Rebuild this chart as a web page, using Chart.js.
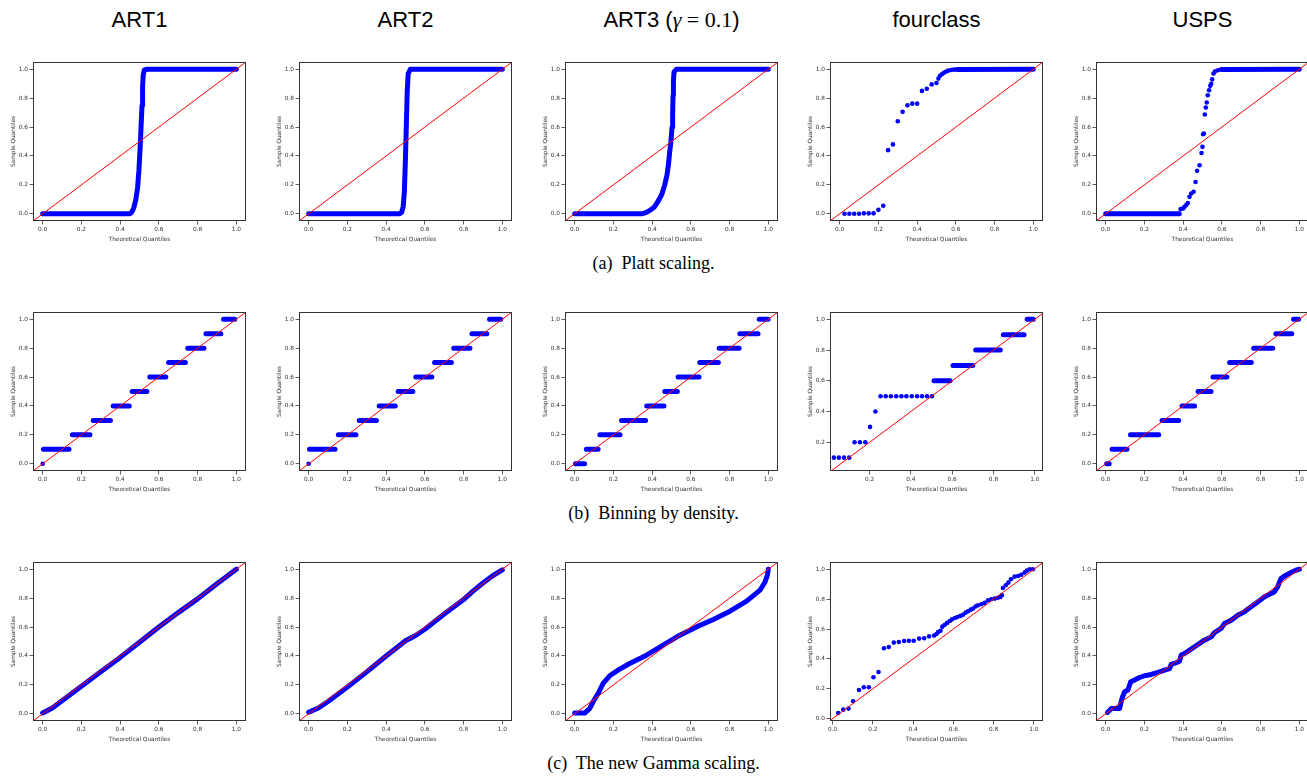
<!DOCTYPE html>
<html>
<head>
<meta charset="utf-8">
<script src="https://cdn.jsdelivr.net/npm/chart.js@4.4.0/dist/chart.umd.min.js"></script>
<style>
  body { margin: 0; width: 1307px; height: 779px; background: #fff; overflow: hidden; position: relative; }
  canvas { position: absolute; }
  .colTitle { position: absolute; top: 8px; width: 213px; line-height: 24px; text-align: center;
              font-family: "Liberation Sans", Arial, sans-serif; font-size: 22px; color: #000; }
  .math { font-family: "Liberation Serif", "Times New Roman", serif; }
  .caption { position: absolute; left: 0; width: 1307px; line-height: 20px; text-align: center;
             font-family: "Liberation Serif", "Times New Roman", serif; font-size: 18px; color: #000; white-space: pre; }
</style>
</head>
<body>
<script>
// column headers and row captions
const columnTitles = ['ART1', 'ART2', 'ART3 (<i class="math">γ</i><span class="math"> = 0.1</span>)', 'fourclass', 'USPS'];
const rowCaptions = ['(a)  Platt scaling.', '(b)  Binning by density.', '(c)  The new Gamma scaling.'];

// tick values
const unitTicks = [0, 0.2, 0.4, 0.6, 0.8, 1.0];
const fourBinXTicks = [0.2, 0.4, 0.6, 0.8, 1.0];
const fourBinYTicks = [0.2, 0.4, 0.6, 0.8, 1.0];

// (a) Platt scaling: dense curves [theoretical, sample]
const plattART1 = [[0,0],[0.45,0],[0.46,0.01],[0.47,0.04],[0.48,0.09],[0.49,0.18],[0.497,0.3],[0.503,0.45],[0.508,0.6],[0.513,0.75],[0.516,0.88],[0.519,0.96],[0.525,0.995],[0.54,1],[1,1]];
const plattART2 = [[0,0],[0.47,0],[0.48,0.01],[0.488,0.05],[0.494,0.15],[0.499,0.35],[0.504,0.6],[0.509,0.85],[0.514,0.97],[0.525,1],[1,1]];
const plattART3 = [[0,0],[0.35,0],[0.37,0.01],[0.39,0.025],[0.41,0.045],[0.43,0.085],[0.45,0.135],[0.465,0.2],[0.477,0.27],[0.485,0.35],[0.49,0.42],[0.497,0.5],[0.503,0.6],[0.506,0.7],[0.508,0.82],[0.51,0.92],[0.513,0.98],[0.525,1],[1,1]];
const plattFourDots = [[0.025,0],[0.05,0],[0.075,0],[0.1,0],[0.125,0.003],[0.15,0.003],[0.175,0.003],[0.2,0.027],[0.225,0.055],[0.25,0.44],[0.275,0.48],[0.3,0.64],[0.325,0.705],[0.35,0.75],[0.375,0.762],[0.4,0.762],[0.425,0.85],[0.45,0.865],[0.475,0.895],[0.5,0.905],[0.51,0.935],[0.518,0.955],[0.528,0.965],[0.538,0.975],[0.548,0.983],[0.56,0.99],[0.575,0.995],[0.59,0.997]];
const plattFourTop = [[0.605,0.998],[1,1]];
const plattUSPSLow = [[0,0],[0.38,0]];
const plattUSPSTop = [[0.6,0.998],[1,1]];
const plattUSPSDots = [[0.387,0.032],[0.4,0.037],[0.407,0.048],[0.416,0.06],[0.424,0.074],[0.433,0.117],[0.442,0.14],[0.454,0.152],[0.464,0.22],[0.472,0.297],[0.485,0.336],[0.495,0.42],[0.5,0.463],[0.503,0.55],[0.507,0.555],[0.512,0.687],[0.517,0.735],[0.522,0.77],[0.527,0.82],[0.534,0.855],[0.54,0.885],[0.545,0.9],[0.55,0.93],[0.557,0.97],[0.565,0.986],[0.58,0.993],[0.596,0.998]];

// (b) Binning by density: steps [from, to, level]
const binART1 = [[0.004,0.136,0.1],[0.153,0.244,0.2],[0.261,0.35,0.3],[0.364,0.447,0.4],[0.462,0.538,0.5],[0.553,0.636,0.6],[0.65,0.737,0.7],[0.749,0.833,0.8],[0.843,0.92,0.9],[0.934,0.992,1.0]];
const binART1Dots = [[0,0]];
const binART2 = [[0.004,0.136,0.1],[0.153,0.244,0.2],[0.261,0.35,0.3],[0.364,0.447,0.4],[0.462,0.538,0.5],[0.553,0.636,0.6],[0.65,0.737,0.7],[0.749,0.833,0.8],[0.843,0.92,0.9],[0.934,0.992,1.0]];
const binART2Dots = [[0,0]];
const binART3 = [[0.004,0.051,0],[0.06,0.121,0.1],[0.13,0.234,0.2],[0.242,0.366,0.3],[0.372,0.461,0.4],[0.465,0.53,0.5],[0.534,0.642,0.6],[0.646,0.742,0.7],[0.746,0.849,0.8],[0.853,0.947,0.9],[0.953,0.999,1.0]];
const binFourDots = [[0.027,0.1],[0.051,0.1],[0.076,0.1],[0.101,0.1],[0.127,0.2],[0.153,0.2],[0.179,0.2],[0.202,0.3],[0.228,0.4],[0.253,0.5],[0.278,0.5],[0.303,0.5],[0.329,0.5],[0.354,0.5],[0.378,0.5],[0.404,0.5],[0.43,0.5],[0.454,0.5],[0.478,0.5],[0.502,0.5]];
const binFour = [[0.512,0.59,0.6],[0.604,0.7,0.7],[0.714,0.833,0.8],[0.848,0.948,0.9],[0.963,0.993,1.0]];
const binUSPS = [[0.005,0.018,0],[0.033,0.11,0.1],[0.128,0.274,0.2],[0.291,0.377,0.3],[0.394,0.459,0.4],[0.477,0.544,0.5],[0.554,0.626,0.6],[0.64,0.752,0.7],[0.764,0.863,0.8],[0.879,0.961,0.9],[0.97,0.996,1.0]];

// (c) new Gamma scaling
const gammaART1 = [[0,0.005],[0.05,0.04],[0.1,0.09],[0.2,0.19],[0.3,0.29],[0.4,0.39],[0.5,0.495],[0.6,0.6],[0.7,0.7],[0.8,0.795],[0.9,0.9],[1,1]];
const gammaART2 = [[0,0.01],[0.05,0.04],[0.1,0.085],[0.2,0.185],[0.3,0.29],[0.4,0.4],[0.5,0.505],[0.55,0.54],[0.6,0.585],[0.7,0.69],[0.8,0.79],[0.85,0.85],[0.9,0.905],[0.95,0.955],[1,0.995]];
const gammaART3 = [[0,0.005],[0.052,0.005],[0.078,0.037],[0.095,0.083],[0.121,0.14],[0.147,0.21],[0.181,0.263],[0.224,0.302],[0.284,0.348],[0.371,0.405],[0.457,0.475],[0.543,0.544],[0.629,0.601],[0.716,0.652],[0.802,0.71],[0.888,0.779],[0.957,0.855],[0.983,0.912],[0.995,0.958],[1,1]];
const gammaFourDots = [[0.028,0.038],[0.053,0.06],[0.079,0.067],[0.102,0.116],[0.131,0.192],[0.155,0.21],[0.18,0.21],[0.203,0.277],[0.228,0.312],[0.255,0.471],[0.279,0.48],[0.304,0.509],[0.329,0.513],[0.355,0.52],[0.379,0.522],[0.403,0.522],[0.43,0.536],[0.455,0.538],[0.479,0.551],[0.504,0.556],[0.516,0.567],[0.524,0.58],[0.536,0.589],[0.545,0.616],[0.557,0.629],[0.569,0.641],[0.582,0.654],[0.593,0.665],[0.607,0.674],[0.62,0.681],[0.635,0.688],[0.648,0.696],[0.661,0.71],[0.673,0.719],[0.686,0.73],[0.698,0.737],[0.711,0.752],[0.722,0.759],[0.739,0.766],[0.755,0.775],[0.772,0.792],[0.788,0.799],[0.805,0.804],[0.821,0.81],[0.833,0.815],[0.841,0.826],[0.846,0.875],[0.86,0.893],[0.873,0.911],[0.886,0.933],[0.904,0.951],[0.921,0.955],[0.937,0.964],[0.954,0.978],[0.965,0.991],[0.979,1],[0.995,1]];
const gammaUSPS = [[0.009,0.009],[0.021,0.025],[0.029,0.037],[0.046,0.037],[0.072,0.037],[0.084,0.106],[0.098,0.152],[0.115,0.164],[0.129,0.221],[0.149,0.233],[0.175,0.251],[0.201,0.263],[0.235,0.272],[0.27,0.286],[0.304,0.302],[0.33,0.313],[0.338,0.341],[0.364,0.353],[0.381,0.364],[0.39,0.406],[0.407,0.417],[0.441,0.447],[0.476,0.479],[0.51,0.509],[0.545,0.532],[0.562,0.562],[0.596,0.59],[0.613,0.624],[0.648,0.647],[0.682,0.682],[0.716,0.705],[0.751,0.74],[0.785,0.774],[0.82,0.809],[0.854,0.832],[0.871,0.843],[0.888,0.878],[0.905,0.935],[0.931,0.959],[0.957,0.977],[0.983,0.993],[1,1]];

function steps(list) { return list.map(s => [[s[0], s[2]], [s[1], s[2]]]); }

const std = { xr: [-0.05, 1.05], yr: [-0.05, 1.05], xt: unitTicks, yt: unitTicks };
const panels = [
  [
    { ...std, lines: [plattART1] },
    { ...std, lines: [plattART2] },
    { ...std, lines: [plattART3] },
    { ...std, lines: [plattFourTop], dots: plattFourDots },
    { ...std, lines: [plattUSPSLow, plattUSPSTop], dots: plattUSPSDots }
  ],
  [
    { ...std, lines: steps(binART1), dots: binART1Dots },
    { ...std, lines: steps(binART2), dots: binART2Dots },
    { ...std, lines: steps(binART3) },
    { xr: [0.008, 1.04], yr: [0.013, 1.048], xt: fourBinXTicks, yt: fourBinYTicks, lines: steps(binFour), dots: binFourDots },
    { ...std, lines: steps(binUSPS) }
  ],
  [
    { ...std, lines: [gammaART1] },
    { ...std, lines: [gammaART2] },
    { ...std, lines: [gammaART3] },
    { xr: [-0.013, 1.045], yr: [-0.016, 1.049], xt: unitTicks, yt: unitTicks, dots: gammaFourDots },
    { ...std, lines: [gammaUSPS] }
  ]
];

// layout of the plot frames
const frameLeft = [33, 299, 565, 830, 1096];
const frameTop = [62, 312, 562];
const FW = 213, FH = 159, PADL = 33, PADT = 5, PADR = 6, AXB = 22;
const axisFont = { family: 'DejaVu Sans', size: 5.8 };
const ink = '#333';

function pts(lines) {
  const out = [];
  lines.forEach((l, i) => {
    if (i > 0) out.push({ x: l[0][0], y: null });
    l.forEach(p => out.push({ x: p[0], y: p[1] }));
  });
  return out;
}

const framePlugin = {
  id: 'frame',
  afterDraw(chart) {
    const { ctx, chartArea: a } = chart;
    ctx.save();
    ctx.strokeStyle = ink;
    ctx.lineWidth = 1;
    ctx.strokeRect(a.left + 0.5, a.top + 0.5, a.right - a.left - 1, a.bottom - a.top - 1);
    ctx.restore();
  }
};

function axis(range, ticks, title, horizontal) {
  return {
    type: 'linear',
    min: range[0],
    max: range[1],
    afterBuildTicks: s => { s.ticks = ticks.map(v => ({ value: v })); },
    afterFit: s => { if (horizontal) s.height = AXB; else s.width = PADL; },
    grid: { display: true, drawOnChartArea: false, drawTicks: true, tickLength: 3.5, color: ink, lineWidth: 0.8 },
    border: { display: false },
    ticks: { callback: v => Number(v).toFixed(1), font: axisFont, color: ink, padding: 1.5,
             autoSkip: false, maxRotation: 0, minRotation: 0 },
    title: { display: true, text: title, font: axisFont, color: ink,
             padding: horizontal ? { top: 2.6, bottom: 0 } : { top: 10.5, bottom: 0 } }
  };
}

function drawPanel(r, c, p) {
  const cv = document.createElement('canvas');
  cv.width = PADL + FW + PADR;
  cv.height = PADT + FH + AXB;
  cv.style.left = (frameLeft[c] - PADL) + 'px';
  cv.style.top = (frameTop[r] - PADT) + 'px';
  document.body.appendChild(cv);
  new Chart(cv, {
    type: 'scatter',
    data: {
      datasets: [
        { data: [{ x: -0.2, y: -0.2 }, { x: 1.2, y: 1.2 }], showLine: true, borderColor: '#ff0000',
          borderWidth: 1, pointRadius: 0 },
        { data: pts(p.lines || []), showLine: true, borderColor: '#0000ff', borderWidth: 5,
          borderCapStyle: 'round', borderJoinStyle: 'round', pointRadius: 0 },
        { data: (p.dots || []).map(d => ({ x: d[0], y: d[1] })), pointRadius: 2.3,
          backgroundColor: '#0000ff', borderWidth: 0 }
      ]
    },
    options: {
      responsive: false,
      animation: false,
      events: [],
      layout: { autoPadding: false, padding: { top: PADT, right: PADR, left: 0, bottom: 0 } },
      plugins: { legend: { display: false }, tooltip: { enabled: false } },
      scales: {
        x: axis(p.xr, p.xt, 'Theoretical Quantiles', true),
        y: axis(p.yr, p.yt, 'Sample Quantiles', false)
      }
    },
    plugins: [framePlugin]
  });
}

columnTitles.forEach((t, c) => {
  const d = document.createElement('div');
  d.className = 'colTitle';
  d.style.left = frameLeft[c] + 'px';
  d.innerHTML = t;
  document.body.appendChild(d);
});

rowCaptions.forEach((t, r) => {
  const d = document.createElement('div');
  d.className = 'caption';
  d.style.top = (frameTop[r] + 191) + 'px';
  d.textContent = t;
  document.body.appendChild(d);
});

panels.forEach((row, r) => row.forEach((p, c) => drawPanel(r, c, p)));
</script>
</body>
</html>
